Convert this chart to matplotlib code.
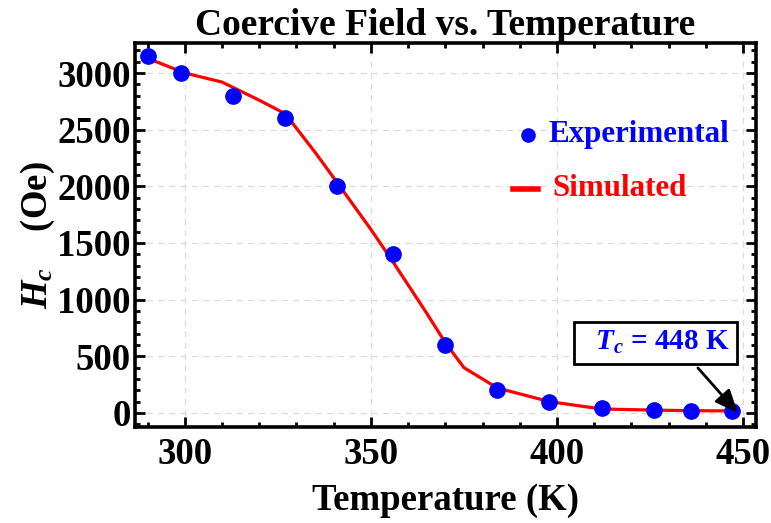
import matplotlib
matplotlib.use("Agg")
import matplotlib.pyplot as plt
from matplotlib.ticker import MultipleLocator

# experimental coercive field
temp_exp = [290, 299, 313, 327, 341, 356, 370, 384, 398, 412, 426, 436, 447]
hc_exp = [3150, 3000, 2800, 2600, 2000, 1400, 600, 200, 100, 40, 30, 20, 15]

# simulated curve
temp_sim = [290, 300, 310, 320, 327, 335, 341, 350, 356, 365, 370, 375, 384, 398, 412, 426, 436, 447]
hc_sim = [3130, 3000, 2920, 2760, 2640, 2300, 2030, 1620, 1330, 880, 620, 400, 220, 100, 35, 25, 20, 18]

xticks = [300, 350, 400, 450]
yticks = [0, 500, 1000, 1500, 2000, 2500, 3000]

plt.rcParams["font.family"] = "Liberation Serif"
plt.rcParams["font.weight"] = "bold"
plt.rcParams["axes.labelweight"] = "bold"
plt.rcParams["axes.titleweight"] = "bold"
plt.rcParams["mathtext.fontset"] = "custom"
plt.rcParams["mathtext.it"] = "Liberation Serif:italic:bold"
plt.rcParams["mathtext.rm"] = "Liberation Serif:bold"
plt.rcParams["mathtext.bf"] = "Liberation Serif:bold"

fig = plt.figure(figsize=(7.71, 5.23), dpi=100)
ax = fig.add_axes([135 / 771, 1 - 427 / 523, (756 - 135) / 771, (427 - 43) / 523])

ax.plot(temp_sim, hc_sim, color="#ff0000", lw=2.3, zorder=2)
ax.plot(temp_exp, hc_exp, "o", color="#0000ff", ms=11, zorder=3)

ax.set_xlim(286.6, 453.5)
ax.set_ylim(-124, 3265)
ax.set_xticks(xticks)
ax.set_yticks(yticks)
ax.xaxis.set_minor_locator(MultipleLocator(10))
ax.yaxis.set_minor_locator(MultipleLocator(100))
ax.tick_params(which="both", direction="in", top=True, right=True, width=2, labelsize=26.5)
ax.tick_params(which="major", length=7)
ax.tick_params(which="minor", length=3.5)
ax.tick_params(axis="x", pad=7)
ax.tick_params(axis="y", pad=3)
ax.grid(True, which="major", color="#dcdcdc", ls=(0, (5, 4)), lw=0.9)
ax.set_axisbelow(True)
for s in ax.spines.values():
    s.set_linewidth(2.6)

ax.set_xlabel("Temperature (K)", fontsize=26.5, labelpad=8)
ax.set_ylabel(r"$H_c$    (Oe)", fontsize=26.5, labelpad=0)
ax.set_title("Coercive Field vs. Temperature", fontsize=27, pad=2)

# legend, drawn by hand to match
ax.plot([392.2], [2455], "o", color="#0000ff", ms=9.5)
ax.text(397.6, 2455, "Experimental", color="#0000ff", fontsize=22.3, va="center")
ax.plot([388.2, 394.9], [1978, 1978], color="#ff0000", lw=4)
ax.text(398.7, 1978, "Simulated", color="#ff0000", fontsize=22.3, va="center")

# Curie temperature callout
ax.text(426.5, 620, r"  $T_c$ = 448 K ", color="#0000ff", fontsize=21, ha="center", va="center",
        bbox=dict(boxstyle="square,pad=0.25", fc="white", ec="black", lw=2))
ax.annotate("", xy=(448.6, 0), xytext=(437.9, 397),
            arrowprops=dict(arrowstyle="-|>,head_length=0.7,head_width=0.3", color="black",
                            lw=2, mutation_scale=20, shrinkA=0, shrinkB=0))

fig.savefig("out.png", dpi=100)
